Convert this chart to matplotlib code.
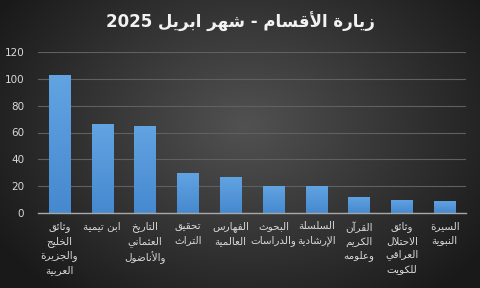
import numpy as np
import matplotlib.pyplot as plt
from matplotlib.colors import LinearSegmentedColormap

# Arabic shaping (matplotlib has no bidi/shaping): presentation forms
# letter: (isolated, final, initial, medial)
FORMS = {
    'ء': ('\uFE80', '\uFE80', None, None),
    'آ': ('\uFE81', '\uFE82', None, None),
    'أ': ('\uFE83', '\uFE84', None, None),
    'ؤ': ('\uFE85', '\uFE86', None, None),
    'إ': ('\uFE87', '\uFE88', None, None),
    'ئ': ('\uFE89', '\uFE8A', '\uFE8B', '\uFE8C'),
    'ا': ('\uFE8D', '\uFE8E', None, None),
    'ب': ('\uFE8F', '\uFE90', '\uFE91', '\uFE92'),
    'ة': ('\uFE93', '\uFE94', None, None),
    'ت': ('\uFE95', '\uFE96', '\uFE97', '\uFE98'),
    'ث': ('\uFE99', '\uFE9A', '\uFE9B', '\uFE9C'),
    'ج': ('\uFE9D', '\uFE9E', '\uFE9F', '\uFEA0'),
    'ح': ('\uFEA1', '\uFEA2', '\uFEA3', '\uFEA4'),
    'خ': ('\uFEA5', '\uFEA6', '\uFEA7', '\uFEA8'),
    'د': ('\uFEA9', '\uFEAA', None, None),
    'ذ': ('\uFEAB', '\uFEAC', None, None),
    'ر': ('\uFEAD', '\uFEAE', None, None),
    'ز': ('\uFEAF', '\uFEB0', None, None),
    'س': ('\uFEB1', '\uFEB2', '\uFEB3', '\uFEB4'),
    'ش': ('\uFEB5', '\uFEB6', '\uFEB7', '\uFEB8'),
    'ص': ('\uFEB9', '\uFEBA', '\uFEBB', '\uFEBC'),
    'ض': ('\uFEBD', '\uFEBE', '\uFEBF', '\uFEC0'),
    'ط': ('\uFEC1', '\uFEC2', '\uFEC3', '\uFEC4'),
    'ظ': ('\uFEC5', '\uFEC6', '\uFEC7', '\uFEC8'),
    'ع': ('\uFEC9', '\uFECA', '\uFECB', '\uFECC'),
    'غ': ('\uFECD', '\uFECE', '\uFECF', '\uFED0'),
    'ف': ('\uFED1', '\uFED2', '\uFED3', '\uFED4'),
    'ق': ('\uFED5', '\uFED6', '\uFED7', '\uFED8'),
    'ك': ('\uFED9', '\uFEDA', '\uFEDB', '\uFEDC'),
    'ل': ('\uFEDD', '\uFEDE', '\uFEDF', '\uFEE0'),
    'م': ('\uFEE1', '\uFEE2', '\uFEE3', '\uFEE4'),
    'ن': ('\uFEE5', '\uFEE6', '\uFEE7', '\uFEE8'),
    'ه': ('\uFEE9', '\uFEEA', '\uFEEB', '\uFEEC'),
    'و': ('\uFEED', '\uFEEE', None, None),
    'ى': ('\uFEEF', '\uFEF0', None, None),
    'ي': ('\uFEF1', '\uFEF2', '\uFEF3', '\uFEF4'),
}
LAM_ALEF = {'آ': ('\uFEF5', '\uFEF6'), 'أ': ('\uFEF7', '\uFEF8'),
            'إ': ('\uFEF9', '\uFEFA'), 'ا': ('\uFEFB', '\uFEFC')}


def joins_next(ch):
    return ch in FORMS and FORMS[ch][2] is not None


def shape_line(s):
    out = []
    i = 0
    n = len(s)
    while i < n:
        ch = s[i]
        prev_joins = i > 0 and joins_next(s[i - 1])
        if ch == 'ل' and i + 1 < n and s[i + 1] in LAM_ALEF:
            out.append(LAM_ALEF[s[i + 1]][1 if prev_joins else 0])
            i += 2
            continue
        if ch not in FORMS:
            out.append(ch)
            i += 1
            continue
        next_joins = i + 1 < n and s[i + 1] in FORMS and joins_next(ch)
        iso, fin, ini, med = FORMS[ch]
        if prev_joins and next_joins:
            out.append(med)
        elif prev_joins:
            out.append(fin)
        elif next_joins:
            out.append(ini)
        else:
            out.append(iso)
        i += 1
    # visual order: reverse, keep digit runs LTR
    rev = ''.join(out)[::-1]
    res, buf = '', ''
    for c in rev:
        if c.isdigit():
            buf += c
        else:
            res += buf[::-1] + c
            buf = ''
    return res + buf[::-1]


def ar(s):
    return '\n'.join(shape_line(l) for l in s.split('\n'))


title = 'زيارة الأقسام - شهر ابريل 2025'
categories = ['وثائق\nالخليج\nوالجزيرة\nالعربية', 'ابن تيمية', 'التاريخ\nالعثماني\nوالأناضول',
              'تحقيق\nالتراث', 'الفهارس\nالعالمية', 'البحوث\nوالدراسات', 'السلسلة\nالإرشادية',
              'القرآن\nالكريم\nوعلومه', 'وثائق\nالاحتلال\nالعراقي\nللكويت', 'السيرة\nالنبوية']
visits = [103, 66, 65, 30, 27, 20, 20, 12, 10, 9]
yticks = [0, 20, 40, 60, 80, 100, 120]

fig = plt.figure(figsize=(4.8, 2.88), dpi=100)

# radial gray background
bg = fig.add_axes([0, 0, 1, 1], zorder=-10)
yy, xx = np.mgrid[0:288, 0:480]
r = np.sqrt(((xx - 245) / 290.0) ** 2 + ((yy - 125) / 220.0) ** 2)
g = np.clip(0.32 - 0.22 * r, 0.10, 0.33)
bg.imshow(np.dstack([g, g, g]), aspect='auto', extent=[0, 1, 0, 1])
bg.axis('off')

ax = fig.add_axes([38 / 480, 1 - 213 / 288, 428 / 480, 161 / 288])
ax.patch.set_alpha(0)
x = np.arange(len(visits))
bars = ax.bar(x, visits, width=0.5, color='#529ada', zorder=3)

# vertical gradient fill inside each bar
cmap = LinearSegmentedColormap.from_list('blu', ['#4689cf', '#62a3e2'])
grad = np.linspace(0, 1, 64).reshape(-1, 1)
for b in bars:
    bx, bw, bh = b.get_x(), b.get_width(), b.get_height()
    im = ax.imshow(grad, cmap=cmap, aspect='auto', origin='lower',
                   extent=[bx, bx + bw, 0, bh], zorder=4)
    im.set_clip_path(b)

ax.set_xlim(-0.5, len(visits) - 0.5)
ax.set_ylim(0, 120)
ax.set_yticks(yticks)
ax.yaxis.grid(True, color='#606060', linewidth=0.8, zorder=0)
for s in ['top', 'right', 'left']:
    ax.spines[s].set_visible(False)
ax.spines['bottom'].set_color('#a8a8a8')
ax.spines['bottom'].set_linewidth(1.0)
ax.spines['bottom'].set_zorder(5)
ax.tick_params(axis='y', length=0, pad=10, labelsize=7.5, labelcolor='#d9d9d9')
ax.tick_params(axis='x', length=0, pad=6)
ax.set_xticks(x)
ax.set_xticklabels([ar(c) for c in categories], fontsize=7.5, color='#d9d9d9',
                   va='top', ha='center', linespacing=1.45, family='DejaVu Sans')

fig.text(0.5, 1 - 22 / 288, ar(title), ha='center', va='center', color='#f2f2f2',
         fontsize=12, fontweight='bold', family='DejaVu Sans')

fig.savefig('out.png', dpi=100)
